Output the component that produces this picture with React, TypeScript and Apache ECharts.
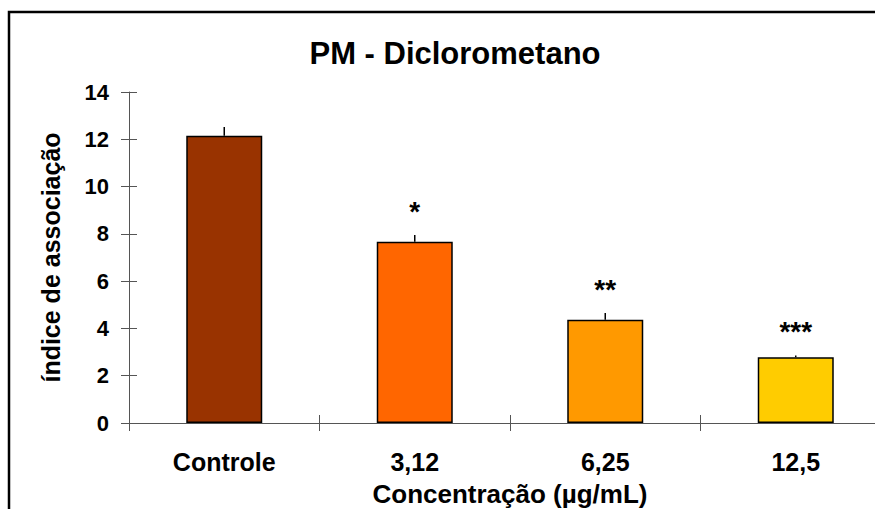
import React, { useEffect, useRef } from "react";
import * as echarts from "echarts";

const categories = ["Controle", "3,12", "6,25", "12,5"];
const values = [12.15, 7.67, 4.37, 2.78];
const errors = [0.37, 0.28, 0.28, 0.08];
const significance = ["", "*", "**", "***"];
const barColors = ["#993300", "#FF6600", "#FF9900", "#FFCC00"];
const yTicks = { min: 0, max: 14, interval: 2 };

const FONT = "'Liberation Sans', Arial, Helvetica, sans-serif";

export default function App() {
  const ref = useRef<HTMLDivElement>(null);
  useEffect(() => {
    if (!ref.current) return;
    const chart = echarts.init(ref.current, undefined, { renderer: "svg" });
    const axisLine = { show: true, lineStyle: { color: "#555", width: 1 } };
    const option: any = {
      animation: false,
      backgroundColor: "#fff",
      title: {
        text: "PM - Diclorometano",
        left: 450,
        top: 33,
        textAlign: "center",
        textStyle: { fontFamily: FONT, fontWeight: "bold", fontSize: 31, color: "#000" },
      },
      graphic: [
        {
          type: "rect",
          shape: { x: 9, y: 12, width: 1000, height: 600 },
          style: { fill: "none", stroke: "#000", lineWidth: 2.5 },
          z: 100,
        },
      ],
      grid: {
        left: 129,
        top: 92,
        width: 762,
        height: 331,
        containLabel: false,
        outerBoundsMode: "none",
      },
      xAxis: [
        {
          type: "category",
          data: categories,
          axisLine,
          axisTick: { show: true, length: 8, lineStyle: { color: "#555" } },
          axisLabel: {
            fontFamily: FONT,
            fontWeight: "bold",
            fontSize: 25,
            color: "#000",
            margin: 26,
          },
          name: "Concentração (µg/mL)",
          nameLocation: "middle",
          nameGap: 58,
          nameTextStyle: { fontFamily: FONT, fontWeight: "bold", fontSize: 26, color: "#000" },
        },
        {
          type: "category",
          data: categories,
          position: "bottom",
          axisLine: { show: false },
          axisTick: { show: true, inside: true, length: 8, lineStyle: { color: "#555" } },
          axisLabel: { show: false },
        },
      ],
      yAxis: [
        {
          type: "value",
          min: yTicks.min,
          max: yTicks.max,
          interval: yTicks.interval,
          axisLine,
          axisTick: { show: true, length: 8, lineStyle: { color: "#555" } },
          splitLine: { show: false },
          axisLabel: {
            fontFamily: FONT,
            fontWeight: "bold",
            fontSize: 22,
            color: "#000",
            margin: 20,
          },
          name: "índice de associação",
          nameLocation: "middle",
          nameRotate: 90,
          nameGap: 66,
          nameTextStyle: { fontFamily: FONT, fontWeight: "bold", fontSize: 25, color: "#000" },
        },
        {
          type: "value",
          min: yTicks.min,
          max: yTicks.max,
          interval: yTicks.interval,
          position: "left",
          axisLine: { show: false },
          axisTick: { show: true, inside: true, length: 8, lineStyle: { color: "#555" } },
          splitLine: { show: false },
          axisLabel: { show: false },
        },
      ],
      series: [
        {
          type: "bar",
          barWidth: 76,
          data: values.map((v, i) => ({
            value: v,
            itemStyle: { color: barColors[i], borderColor: "#000", borderWidth: 1.5 },
          })),
          z: 2,
        },
        {
          type: "custom",
          data: values.map((v, i) => [i, v, errors[i]]),
          renderItem: (params: any, api: any) => {
            const i = api.value(0);
            const v = api.value(1);
            const e = api.value(2);
            const p0 = api.coord([i, v]);
            const p1 = api.coord([i, v + e]);
            const children: any[] = [
              {
                type: "line",
                shape: { x1: p0[0], y1: p0[1], x2: p1[0], y2: p1[1] },
                style: { stroke: "#000", lineWidth: 1.5 },
              },
            ];
            const s = significance[params.dataIndex];
            if (s) {
              children.push({
                type: "text",
                x: p1[0],
                y: p1[1] - 10,
                style: {
                  text: s,
                  fill: "#000",
                  font: `bold 28px ${FONT}`,
                  textAlign: "center",
                  textVerticalAlign: "bottom",
                },
              });
            }
            return { type: "group", children };
          },
          z: 3,
        },
      ],
    };
    chart.setOption(option);
    return () => chart.dispose();
  }, []);
  return (
    <div
      ref={ref}
      style={{ position: "absolute", left: 0, top: 0, width: 875, height: 509 }}
    />
  );
}
